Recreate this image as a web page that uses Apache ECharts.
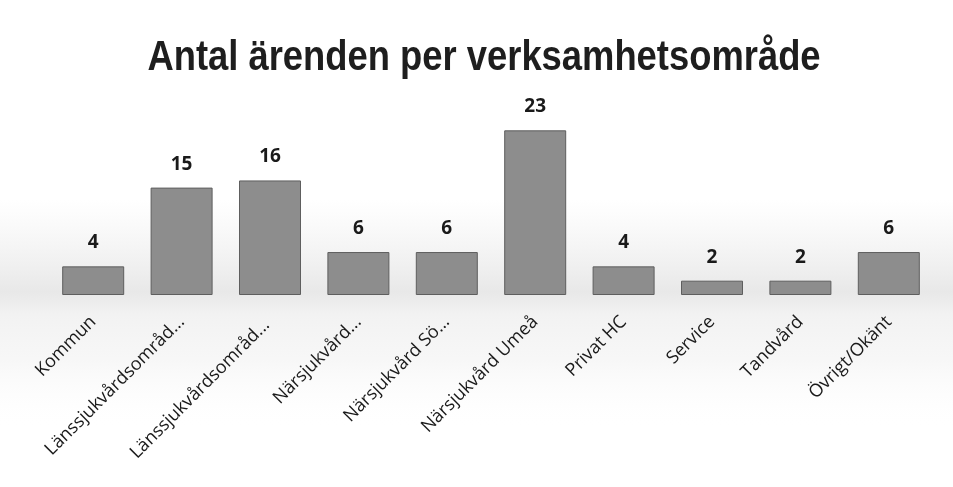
<!DOCTYPE html>
<html>
<head>
<meta charset="utf-8">
<script src="https://cdn.jsdelivr.net/npm/echarts@6/dist/echarts.min.js"></script>
<style>html,body{margin:0;padding:0;background:#fff;}#c{width:953px;height:487px;}</style>
</head>
<body>
<div id="c"></div>
<script>
const categories = ['Kommun','Länssjukvårdsområd...','Länssjukvårdsområd... ','Närsjukvård...','Närsjukvård Sö...','Närsjukvård Umeå','Privat HC','Service','Tandvård','Övrigt/Okänt'];
const values = [4, 15, 16, 6, 6, 23, 4, 2, 2, 6];
const titleText = 'Antal ärenden per verksamhetsområde';

const chart = echarts.init(document.getElementById('c'));
chart.setOption({
  backgroundColor: '#ffffff',
  graphic: [{
    type: 'rect', silent: true, z: -10,
    shape: {x: 0, y: 200, width: 953, height: 230},
    style: {fill: new echarts.graphic.LinearGradient(0, 0, 0, 1, [
      {offset: 0, color: 'rgba(235,235,235,0)'},
      {offset: 0.4, color: 'rgba(228,228,228,0.85)'},
      {offset: 0.5, color: 'rgba(240,240,240,0.85)'},
      {offset: 0.7, color: 'rgba(242,242,242,0.6)'},
      {offset: 1, color: 'rgba(255,255,255,0)'}
    ])}
  }, {
    type: 'text', silent: true,
    x: 484, y: 58, scaleX: 0.866,
    style: {
      text: titleText, textAlign: 'center', textVerticalAlign: 'middle',
      font: 'bold 42px "Liberation Sans", Arial, sans-serif', fill: '#1e1e1e'
    }
  }],
  grid: {left: 49, right: 20, top: 116, bottom: 192, containLabel: false},
  xAxis: {
    type: 'category', data: categories,
    axisLine: {show: false}, axisTick: {show: false},
    axisLabel: {rotate: 45, interval: 0, margin: 24, fontFamily: '"Open Sans", "Noto Sans", sans-serif', fontSize: 18, color: '#1a1a1a'}
  },
  yAxis: {type: 'value', min: 0, max: 25, show: false, splitLine: {show: false}},
  series: [{
    type: 'bar', data: values, barWidth: 62,
    itemStyle: {color: '#8d8d8d', borderColor: '#5e5e5e', borderWidth: 1},
    label: {show: true, position: 'top', distance: 14, fontFamily: '"Open Sans", "Noto Sans", sans-serif', fontWeight: 'bold', fontSize: 19, color: '#1a1a1a'}
  }]
});
</script>
</body>
</html>
